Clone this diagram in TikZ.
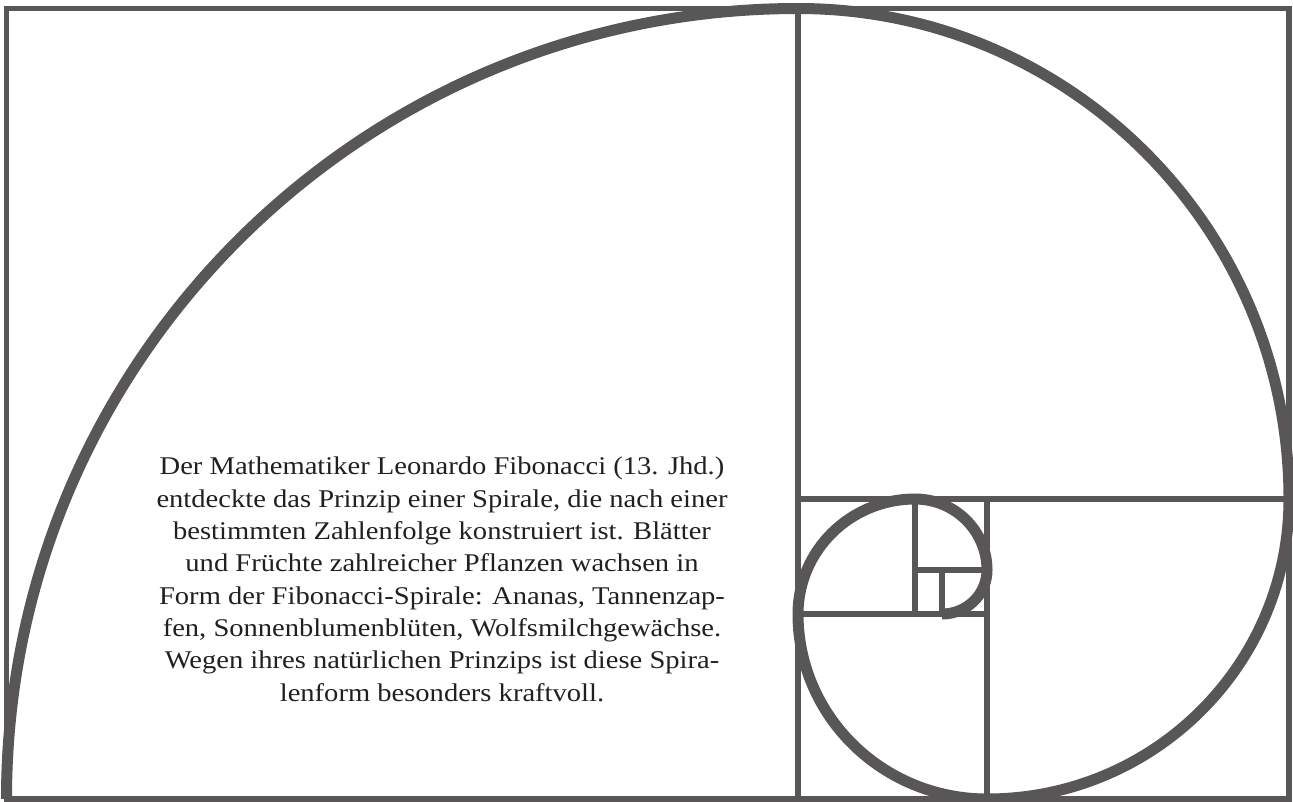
\documentclass[tikz,border=0pt]{standalone}
\usepackage{fontspec}
\setmainfont[FakeStretch=1.12]{Liberation Serif}
\usepackage{tikz}

\definecolor{spiralgray}{RGB}{88,86,86}
\definecolor{textdark}{RGB}{35,31,32}

\begin{document}
\begin{tikzpicture}[x=1pt, y=-1pt,
    frame/.style={draw=spiralgray, line width=5.5pt},
    spiral/.style={draw=spiralgray, line width=11pt},
    blurb/.style={align=center, inner sep=0pt, text=textdark,
        font={\fontsize{25.5}{32.3}\selectfont}}]
    \useasboundingbox[fill=white] (0,0) rectangle (1293,801);

    % Corners of the squares
    \coordinate (tl) at (6.5, 8.5);
    \coordinate (br) at (1289, 799);
    \coordinate (c1) at (798, 799);
    \coordinate (c2) at (798, 499);
    \coordinate (c3) at (987, 499);
    \coordinate (c4) at (987, 614);
    \coordinate (c5) at (915, 614);
    \coordinate (c6) at (915, 570);
    \coordinate (c7) at (942, 570);

    % Squares
    \draw[frame] (tl) rectangle (br);
    \draw[frame] (798, 8.5) -- (c1);
    \draw[frame] (c2) -- (1289, 499);
    \draw[frame] (c3) -- (987, 799);
    \draw[frame] (798, 614) -- (c4);
    \draw[frame] (915, 499) -- (c5);
    \draw[frame] (c6) -- (987, 570);
    \draw[frame] (c7) -- (942, 614);

    % Spiral
    \draw[spiral] (6.5, 799)
        arc[start angle=180, end angle=90, x radius=791.5, y radius=-790.5]
        arc[start angle=90, end angle=0, x radius=491, y radius=-490.5]
        arc[start angle=0, end angle=-90, x radius=302, y radius=-300]
        arc[start angle=-90, end angle=-180, x radius=189, y radius=-185]
        arc[start angle=180, end angle=90, x radius=117, y radius=-115]
        arc[start angle=90, end angle=0, x radius=72, y radius=-71]
        arc[start angle=0, end angle=-90, x radius=45, y radius=-44];

    % Text (anchored at the baseline of its last line)
    \node[blurb, anchor=base] (blurb) at (442, 701) {Der Mathematiker Leonardo Fibonacci (13. Jhd.)\\
        entdeckte das Prinzip einer Spirale, die nach einer\\
        bestimmten Zahlenfolge konstruiert ist. Blätter\\
        und Früchte zahlreicher Pflanzen wachsen in\\
        Form der Fibonacci-Spirale: Ananas, Tannenzap-\\
        fen, Sonnenblumenblüten, Wolfsmilchgewächse.\\
        Wegen ihres natürlichen Prinzips ist diese Spira-\\
        lenform besonders kraftvoll.};
\end{tikzpicture}
\end{document}
